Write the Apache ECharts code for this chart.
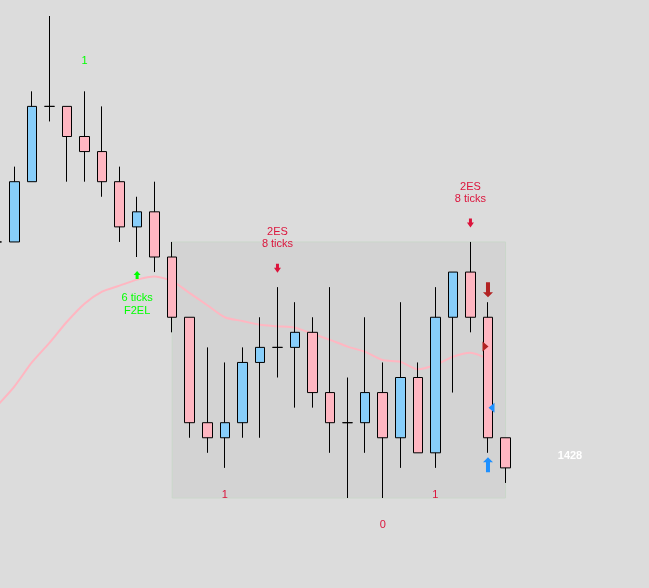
<!DOCTYPE html>
<html>
<head>
<meta charset="utf-8">
<script src="https://cdn.jsdelivr.net/npm/echarts@6/dist/echarts.min.js"></script>
<style>
html,body{margin:0;padding:0;background:#dcdcdc;overflow:hidden;width:649px;height:588px;}
#chart{position:absolute;left:-12px;top:0;width:661px;height:588px;}
</style>
</head>
<body>
<div id="chart"></div>
<script>
// Bars (price in ticks above the lowest visible level)
const categories = ['1399','1400','1401','1402','1403','1404','1405','1406','1407','1408','1409','1410','1411','1412','1413','1414','1415','1416','1417','1418','1419','1420','1421','1422','1423','1424','1425','1426','1427','1428'];
const opens  = [17,17,21,26,26,24,23,21,18,19,16,12, 5, 4, 5, 9,10,10,11, 7, 5, 5, 7, 4, 8, 3,12,15,12, 4];
const closes = [17,21,26,26,24,23,21,18,19,16,12, 5, 4, 5, 9,10,10,11, 7, 5, 5, 7, 4, 8, 3,12,15,12, 4, 2];
const lows   = [16,17,21,25,21,21,20,17,16,15,11, 4, 3, 2, 4, 4, 8, 6, 6, 3, 0, 3, 0, 2, 3, 2, 7,11, 3, 1];
const highs  = [18,22,27,32,26,27,26,22,20,21,17,12,10, 9,10,12,14,13,12,14, 8,12, 9,13, 9,14,15,17,13, 4];
// Moving average (ticks)
const movingAvg = [6.1,7.4,9.0,10.3,11.7,12.9,13.7,14.1,14.5,14.7,14.4,13.6,12.8,12.0,11.75,11.5,11.4,11.3,10.9,10.5,10.05,9.7,9.16,9.05,8.55,8.83,9.38,9.65,9.23,null];
// Zone
const zoneStartBar = '1409', zoneEndBar = '1428';
const zoneLow = 0, zoneHigh = 17;
// Signals
const longSignalBars = ['1407'];
const longSignalTexts = ['6 ticks\nF2EL'];
const shortSignalBars = ['1415', '1426'];
const shortSignalTexts = ['2ES\n8 ticks', '2ES\n8 ticks'];
// Counters
const topCountBars = ['1404'];
const topCountTexts = ['1'];
const topCountLevels = [29];
const bottomCountBars = ['1412', '1424'];
const bottomCountTexts = ['1', '1'];
const lowerCountBars = ['1421'];
const lowerCountTexts = ['0'];
// Trade
const tradeBar = '1427';
const tradeEntryLevel = 10;
const tradeExitLevel = 6;
const sideLabel = '1428';

const GREEN = '#00ff00', RED = '#dc143c', DARKRED = '#b22222', BLUE = '#1e90ff';
const FONT = 'Liberation Sans';

const candleData = categories.map((c, i) => [opens[i], closes[i], lows[i], highs[i]]);
const idx = name => categories.indexOf(name);

const SMALL_DOWN = 'path://M2,0 L5,0 L5,4 L7,4 L3.5,9 L0,4 L2,4 Z';
const SMALL_UP   = 'path://M3.5,0 L7,4 L5,4 L5,8 L2,8 L2,4 L0,4 Z';
const BIG_DOWN   = 'path://M3,0 L7,0 L7,10 L10,10 L5,15 L0,10 L3,10 Z';
const BIG_UP     = 'path://M5,0 L10,5 L7,5 L7,15 L3,15 L3,5 L0,5 Z';
const TRI_RIGHT  = 'path://M0,0 L6,5 L0,10 Z';
const TRI_LEFT   = 'path://M6,0 L0,5 L6,10 Z';

function textPoint(coord, text, color, dy) {
  return {
    coord: coord, symbol: 'circle', symbolSize: 1,
    itemStyle: { color: 'rgba(0,0,0,0)' },
    label: { show: true, position: 'inside', offset: [0, dy], formatter: text,
      color: color, fontSize: 11, fontFamily: FONT, lineHeight: 12.5, align: 'center', verticalAlign: 'middle' }
  };
}
function symPoint(coord, symbol, size, color, offset) {
  return { coord: coord, symbol: symbol, symbolSize: size, symbolOffset: offset,
    itemStyle: { color: color }, label: { show: false } };
}

const marks = [];
longSignalBars.forEach((b, k) => {
  const lo = lows[idx(b)];
  marks.push(symPoint([b, lo], SMALL_UP, [7, 8], GREEN, [0, 18]));
  marks.push(textPoint([b, lo], longSignalTexts[k], GREEN, 47.5));
});
shortSignalBars.forEach((b, k) => {
  const hi = highs[idx(b)];
  marks.push(symPoint([b, hi], SMALL_DOWN, [7, 9], RED, [0, -19]));
  marks.push(textPoint([b, hi], shortSignalTexts[k], RED, -49));
});
topCountBars.forEach((b, k) => marks.push(textPoint([b, topCountLevels[k]], topCountTexts[k], GREEN, 0)));
bottomCountBars.forEach((b, k) => marks.push(textPoint([b, 0], bottomCountTexts[k], RED, -3.5)));
lowerCountBars.forEach((b, k) => marks.push(textPoint([b, 0], lowerCountTexts[k], RED, 26.5)));
marks.push(symPoint([tradeBar, highs[idx(tradeBar)]], BIG_DOWN, [10, 15], DARKRED, [0, -12.5]));
marks.push(symPoint([tradeBar, lows[idx(tradeBar)]], BIG_UP, [10, 15], BLUE, [0, 12]));
marks.push(symPoint([tradeBar, tradeEntryLevel], TRI_RIGHT, [6, 10], DARKRED, [-2.5, -1]));
marks.push(symPoint([tradeBar, tradeExitLevel], TRI_LEFT, [6, 10], BLUE, [3.5, 0]));

const chart = echarts.init(document.getElementById('chart'), null, { renderer: 'canvas' });
chart.setOption({
  backgroundColor: '#dcdcdc',
  animation: false,
  grid: { left: 0, top: 16, width: 526.3, bottom: 90, containLabel: false, show: false },
  xAxis: { type: 'category', data: categories, boundaryGap: true, show: false },
  yAxis: { type: 'value', min: 0, max: 32, show: false, splitLine: { show: false } },
  graphic: [{
    type: 'text', x: 582, y: 456,
    style: { text: sideLabel, fill: '#ffffff', font: 'bold 11px "Liberation Sans"', textAlign: 'center', textVerticalAlign: 'middle' }
  }],
  series: [
    {
      type: 'line', data: [], z: 1, silent: true,
      markArea: {
        silent: true,
        itemStyle: { color: '#d3d3d3', borderColor: '#cad6ca', borderWidth: 1 },
        data: [[{ coord: [zoneStartBar, zoneHigh] }, { coord: [zoneEndBar, zoneLow] }]]
      }
    },
    {
      type: 'line', data: movingAvg, z: 2, symbol: 'none', smooth: 0.25,
      lineStyle: { color: '#ffb6c1', width: 2 }, silent: true
    },
    {
      type: 'candlestick', data: candleData, z: 3, barWidth: 10, silent: true,
      itemStyle: { color: '#87cefa', color0: '#ffb6c1', borderColor: '#000', borderColor0: '#000', borderColorDoji: '#000', borderWidth: 1 },
      markPoint: { silent: true, animation: false, data: marks }
    }
  ]
});
</script>
</body>
</html>
